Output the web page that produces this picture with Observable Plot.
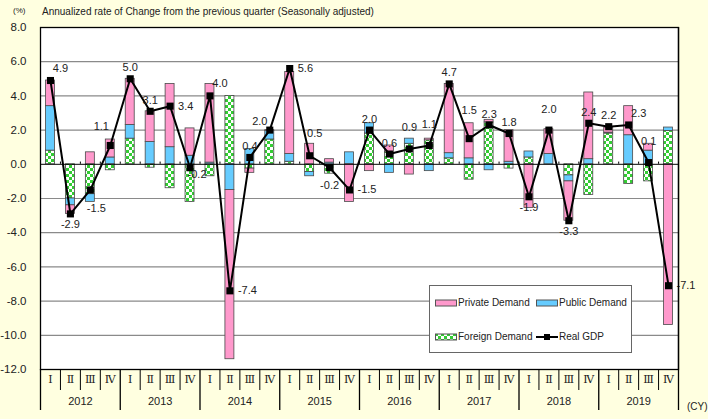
<!DOCTYPE html>
<html>
<head>
<meta charset="utf-8">
<script src="https://cdn.jsdelivr.net/npm/d3@7"></script>
<script src="https://cdn.jsdelivr.net/npm/@observablehq/plot@0.6"></script>
<style>
  html, body { margin: 0; padding: 0; }
  body { width: 708px; height: 419px; position: relative; overflow: hidden; background: #FFFFE0; font-family: "Liberation Sans", Arial, sans-serif; color: #222; }
  #chart { position: absolute; left: 0; top: 0; }
  .note { position: absolute; white-space: nowrap; line-height: 1; }
  #legend { position: absolute; left: 429px; top: 285px; width: 201px; height: 66px; background: #fff; border: 1px solid #666; font-size: 10px; }
  #legend .item { position: absolute; display: flex; align-items: center; white-space: nowrap; }
  #legend svg { margin-right: 1px; }
</style>
</head>
<body>
<svg width="0" height="0" style="position:absolute">
  <defs>
    <pattern id="checker" patternUnits="userSpaceOnUse" width="6" height="6">
      <rect width="6" height="6" fill="#ffffff"/>
      <rect width="3" height="3" fill="#33CC33"/>
      <rect x="3" y="3" width="3" height="3" fill="#33CC33"/>
    </pattern>
  </defs>
</svg>
<div id="chart"></div>
<div class="note" style="left:13px; top:7px; font-size:8px;">(%)</div>
<div class="note" style="left:42px; top:7px; font-size:10px;">Annualized rate of Change from the previous quarter (Seasonally adjusted)</div>
<div class="note" style="left:687px; top:402px; font-size:10px;">(CY)</div>
<div id="legend">
  <div class="item" style="left:5px; top:11px;"><svg width="22" height="8"><rect x="0.5" y="1" width="21" height="6" fill="#FF99CC" stroke="#555"/></svg>Private Demand</div>
  <div class="item" style="left:106px; top:11px;"><svg width="22" height="8"><rect x="0.5" y="1" width="21" height="6" fill="#66CCFF" stroke="#555"/></svg>Public Demand</div>
  <div class="item" style="left:5px; top:45px;"><svg width="22" height="8"><rect x="0.5" y="1" width="21" height="6" fill="url(#checker)" stroke="#555"/></svg>Foreign Demand</div>
  <div class="item" style="left:106px; top:45px;"><svg width="22" height="8"><line x1="0" y1="4" x2="22" y2="4" stroke="#000" stroke-width="2"/><rect x="8" y="1" width="6" height="6" fill="#000"/></svg>Real GDP</div>
</div>
<script>
// ---- data ----
const years = ["2012", "2013", "2014", "2015", "2016", "2017", "2018", "2019"];
const quarterLabels = ["Ⅰ", "Ⅱ", "Ⅲ", "Ⅳ"];
const seriesNames = ["Foreign", "Public", "Private"];

const privateDemand = [1.5, -0.5, 0.7, 1.05, 2.7, 1.8, 3.7, 1.6, 4.6, -9.9, -0.25, 0.05, 4.8, 1.2, 0.2, -2.2, -0.4, 0.4, -0.6, 0.1, 4.05, 2.05, 0.15, 1.85, -2.55, 1.45, -2.3, 3.9, 0.3, 1.7, 0.4, -9.4];
const publicDemand = [2.6, -0.4, -0.45, 0.4, 0.8, 1.3, 1.0, 0.5, 0.1, -1.5, 0.9, 0.5, 0.45, -0.25, 0.1, 0.7, 0.6, -0.5, 0.3, -0.4, 0.3, 0.35, -0.35, 0.15, 0.35, 0.6, -0.35, 0.3, 0.05, 1.7, 0.8, 0.2];
const foreignDemand = [0.8, -2.0, -1.75, -0.35, 1.5, -0.2, -1.4, -2.2, -0.7, 4.0, -0.25, 1.45, 0.15, -0.45, -0.55, 0, 1.8, 0.7, 1.2, 1.4, 0.35, -0.9, 2.45, -0.25, 0.4, 0, -0.65, -1.8, 1.8, -1.15, -1.0, 1.95];
const realGDP = [4.9, -2.9, -1.5, 1.1, 5.0, 3.1, 3.4, -0.2, 4.0, -7.4, 0.4, 2.0, 5.6, 0.5, -0.2, -1.5, 2.0, 0.6, 0.9, 1.1, 4.7, 1.5, 2.3, 1.8, -1.9, 2.0, -3.3, 2.4, 2.2, 2.3, 0.1, -7.1];

// label placement keywords (style only)
const labelPlace = ["tr","b","br","ttl","t","t","r","rb","tr","r","t","tl","r","ttr","bb","r","t","t","tt","tt","t","ttt","t","t","b","tt","b","t","t","tr","tt","r"];

// ---- build tables ----
const quarterKeys = years.flatMap(y => [1, 2, 3, 4].map(q => `${y}-Q${q}`));
const seriesValues = {Foreign: foreignDemand, Public: publicDemand, Private: privateDemand};
const fillMap = {Private: "#FF99CC", Public: "#66CCFF", Foreign: "url(#checker)"};
const barRows = [];
quarterKeys.forEach((k, i) => {
  for (const s of seriesNames) {
    const v = seriesValues[s][i];
    if (v !== 0) barRows.push({quarter: k, series: s, value: v});
  }
});
const gdpRows = quarterKeys.map((k, i) => ({quarter: k, value: realGDP[i], place: labelPlace[i]}));

const W = 708, H = 419, mL = 40, mR = 30, mT = 27, mB = 50;
const step = (W - mL - mR) / quarterKeys.length;
const frameH = H - mT - mB;
const fmt = d => d.toFixed(1);

const placeStyle = {
  t:   {dx: 0,   dy: -11, textAnchor: "middle"},
  tt:  {dx: 0,   dy: -21, textAnchor: "middle"},
  ttr: {dx: 5,   dy: -22, textAnchor: "middle"},
  ttt: {dx: 0,   dy: -28, textAnchor: "middle"},
  ttl: {dx: -9,  dy: -19, textAnchor: "middle"},
  tl:  {dx: -10, dy: -9,  textAnchor: "middle"},
  tr:  {dx: 10,  dy: -12, textAnchor: "middle"},
  r:   {dx: 8,   dy: 0,   textAnchor: "start"},
  rb:  {dx: 7,   dy: 7,   textAnchor: "middle"},
  b:   {dx: 0,   dy: 11,  textAnchor: "middle"},
  bb:  {dx: 0,   dy: 18,  textAnchor: "middle"},
  br:  {dx: 6,   dy: 19,  textAnchor: "middle"}
};
const labelMarks = Object.entries(placeStyle).map(([key, st]) =>
  Plot.text(gdpRows.filter(d => d.place === key), {
    x: "quarter", y: "value", text: d => fmt(d.value),
    fontSize: 11, fill: "#222", ...st
  })
);

const firstQuarterKeys = quarterKeys.filter((k, i) => i % 4 === 0);
const otherQuarterKeys = quarterKeys.filter((k, i) => i % 4 !== 0);
const midYearKeys = quarterKeys.filter((k, i) => i % 4 === 1);

const chart = Plot.plot({
  width: W, height: H,
  marginLeft: mL, marginRight: mR, marginTop: mT, marginBottom: mB,
  style: {background: "transparent", fontFamily: "'Liberation Sans', Arial, sans-serif", color: "#222"},
  x: {domain: quarterKeys, paddingInner: 0.55, paddingOuter: 0.275, round: false, axis: null},
  y: {domain: [-12, 8], axis: null},
  color: {type: "identity"},
  marks: [
    Plot.frame({fill: "white", stroke: null}),
    Plot.ruleY([6, 4, 2, -2, -4, -6, -8, -10], {stroke: "#8a8a8a", strokeWidth: 1.2}),
    Plot.barY(barRows, Plot.stackY({
      x: "quarter", y: "value", z: "series", order: seriesNames,
      fill: d => fillMap[d.series], stroke: "#4a4a4a", strokeWidth: 0.8
    })),
    Plot.ruleY([0], {stroke: "#000", strokeWidth: 1}),
    Plot.ruleX(quarterKeys, {x: d => d, dx: -step / 2, y1: 0, y2: 0.13, stroke: "#000", strokeWidth: 1}),
    Plot.line(gdpRows, {x: "quarter", y: "value", stroke: "#000", strokeWidth: 2}),
    Plot.dot(gdpRows, {x: "quarter", y: "value", symbol: "square", r: 4, fill: "#000", stroke: null}),
    ...labelMarks,
    Plot.frame({stroke: "#000", strokeWidth: 1.3}),
    // category axis grid below the frame
    Plot.ruleX(otherQuarterKeys, {x: d => d, dx: -step / 2, insetTop: frameH, insetBottom: -21, stroke: "#000", strokeWidth: 1}),
    Plot.ruleX(firstQuarterKeys, {x: d => d, dx: -step / 2, insetTop: frameH, insetBottom: -41, stroke: "#000", strokeWidth: 1.3}),
    Plot.ruleX([quarterKeys[quarterKeys.length - 1]], {x: d => d, dx: step / 2, insetTop: 0, insetBottom: -41, stroke: "#000", strokeWidth: 1.3}),
    Plot.text(quarterKeys, {x: d => d, text: (d, i) => quarterLabels[i % 4], frameAnchor: "bottom", dy: 13, fontSize: 11, fontFamily: "'DejaVu Serif', 'Liberation Serif', serif", fill: "#222"}),
    Plot.text(midYearKeys, {x: d => d, text: (d, i) => years[i], frameAnchor: "bottom", dx: step / 2, dy: 35, fontSize: 11, fill: "#222"}),
    Plot.axisY({ticks: d3.range(-12, 9, 2), tickFormat: fmt, tickSize: 0, tickPadding: 14, fontSize: 11.5, label: null, fill: "#222"})
  ]
});
document.getElementById("chart").append(chart);
</script>
</body>
</html>
